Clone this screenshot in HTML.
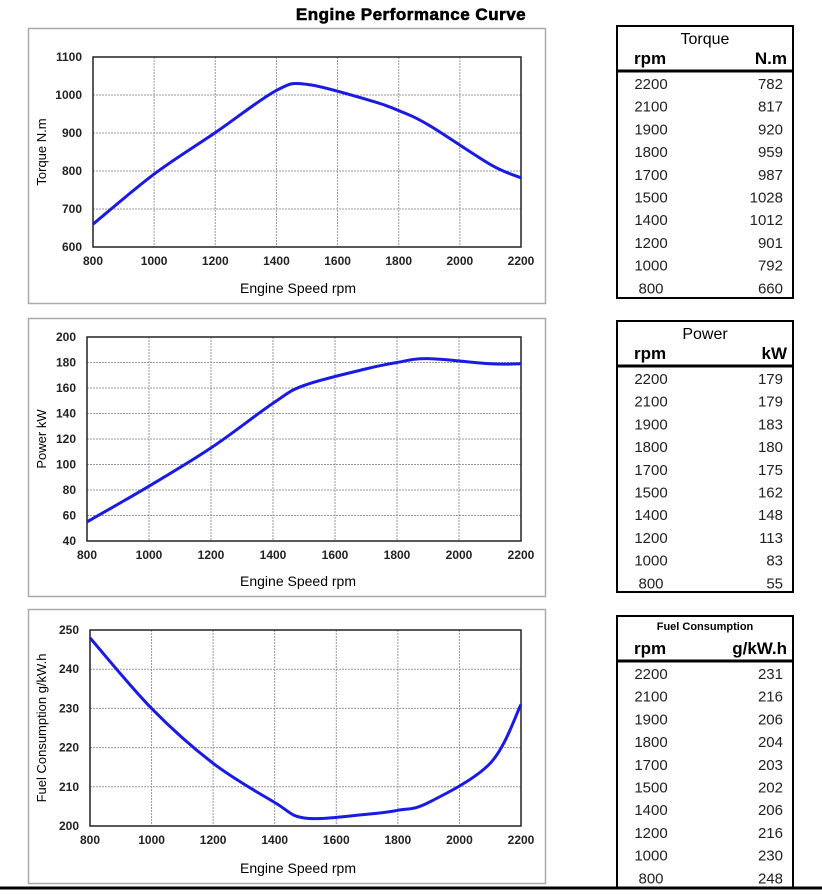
<!DOCTYPE html>
<html><head><meta charset="utf-8"><style>
body{margin:0;background:#fff;width:822px;height:894px;overflow:hidden;font-family:"Liberation Sans",Arial,sans-serif}
svg{position:absolute;left:0;top:0}
</style></head><body>
<svg id="s" width="822" height="894" xmlns="http://www.w3.org/2000/svg" font-family="Liberation Sans, Arial, sans-serif">
<text x="411" y="20" text-anchor="middle" font-size="17" font-weight="bold" stroke="#000" stroke-width="0.6" letter-spacing="0.5">Engine Performance Curve</text>
<line x1="0" y1="888" x2="822" y2="888" stroke="#000" stroke-width="3"/>
</svg>
<script>
const S=document.getElementById('s');const NS='http://www.w3.org/2000/svg';
function el(t,a,txt){const e=document.createElementNS(NS,t);for(const k in a)e.setAttribute(k,a[k]);if(txt!==undefined)e.textContent=txt;S.appendChild(e);return e;}
const rpm=[800,1000,1200,1400,1500,1700,1800,1900,2100,2200];
function chart(o){
 el('rect',{x:28.5,y:o.oy1+.5,width:517,height:o.oy2-o.oy1,fill:'none',stroke:'#aaa','stroke-width':1.5});
 const X=v=>o.x1+(v-800)/1400*(o.x2-o.x1), Y=v=>o.y2-(v-o.ymin)/(o.ymax-o.ymin)*(o.y2-o.y1);
 for(let r=800;r<=2200;r+=200){const x=X(r);
  if(r>800&&r<2200)el('line',{x1:x,y1:o.y1,x2:x,y2:o.y2,stroke:'#999','stroke-dasharray':'2,1','stroke-width':1});
  el('text',{x:x,y:o.y2+18,'text-anchor':'middle','font-size':12,'font-weight':'bold',fill:'#222'},r);}
 for(let v=o.ymin;v<=o.ymax;v+=o.step){const y=Y(v);
  if(v>o.ymin&&v<o.ymax)el('line',{x1:o.x1,y1:y,x2:o.x2,y2:y,stroke:'#999','stroke-dasharray':'2,1','stroke-width':1});
  el('text',{x:o.x1-11,y:y+4,'text-anchor':'end','font-size':12,'font-weight':'bold',fill:'#222'},v);}
 el('rect',{x:o.x1,y:o.y1,width:o.x2-o.x1,height:o.y2-o.y1,fill:'none',stroke:'#222','stroke-width':1.5});
 const p=rpm.map((r,i)=>[X(r),Y(o.d[i])]);
 let d='M'+p[0][0]+','+p[0][1];
 for(let i=0;i<p.length-1;i++){const p0=p[i-1]||p[i],p1=p[i],p2=p[i+1],p3=p[i+2]||p[i+1];
  d+=` C${p1[0]+(p2[0]-p0[0])/6},${p1[1]+(p2[1]-p0[1])/6} ${p2[0]-(p3[0]-p1[0])/6},${p2[1]-(p3[1]-p1[1])/6} ${p2[0]},${p2[1]}`;}
 el('path',{d:d,fill:'none',stroke:'#1a1ae6','stroke-width':3,'stroke-linejoin':'round'});
 el('text',{x:298,y:o.oy2-10,'text-anchor':'middle','font-size':14},'Engine Speed rpm');
 const cy=(o.y1+o.y2)/2;el('text',{x:46,y:cy,'text-anchor':'middle','font-size':13,transform:`rotate(-90 46 ${cy})`},o.label);
}
chart({oy1:28,oy2:303,x1:93,x2:521,y1:57,y2:247,ymin:600,ymax:1100,step:100,label:'Torque N.m',d:[660,792,901,1012,1028,987,959,920,817,782]});
chart({oy1:318,oy2:596,x1:87,x2:521,y1:337,y2:541,ymin:40,ymax:200,step:20,label:'Power kW',d:[55,83,113,148,162,175,180,183,179,179]});
chart({oy1:609,oy2:883,x1:90,x2:521,y1:630,y2:826,ymin:200,ymax:250,step:10,label:'Fuel Consumption g/kW.h',d:[248,230,216,206,202,203,204,206,216,231]});
function table(o){
 el('rect',{x:617,y:o.y,width:176,height:o.h,fill:'none',stroke:'#000','stroke-width':2});
 el('line',{x1:617,y1:o.y+45,x2:793,y2:o.y+45,stroke:'#000','stroke-width':3});
 el('text',{x:705,y:o.y+o.ty,'text-anchor':'middle','font-size':o.ts,'font-weight':o.tw},o.title);
 el('text',{x:634,y:o.y+38,'font-size':17,'font-weight':'bold'},'rpm');
 el('text',{x:787,y:o.y+38,'text-anchor':'end','font-size':17,'font-weight':'bold'},o.unit);
 const r=[2200,2100,1900,1800,1700,1500,1400,1200,1000,800];
 r.forEach((v,i)=>{const y=o.y+63+i*22.7;
  el('text',{x:651,y:y,'text-anchor':'middle','font-size':15,fill:'#222'},v);
  el('text',{x:783,y:y,'text-anchor':'end','font-size':15,fill:'#222'},o.d[i]);});
}
table({y:26,h:272,title:'Torque',ts:16,tw:'normal',ty:18,unit:'N.m',d:[782,817,920,959,987,1028,1012,901,792,660]});
table({y:321,h:271,title:'Power',ts:16,tw:'normal',ty:18,unit:'kW',d:[179,179,183,180,175,162,148,113,83,55]});
table({y:616,h:272,title:'Fuel Consumption',ts:11,tw:'bold',ty:14,unit:'g/kW.h',d:[231,216,206,204,203,202,206,216,230,248]});
</script>
</body></html>
